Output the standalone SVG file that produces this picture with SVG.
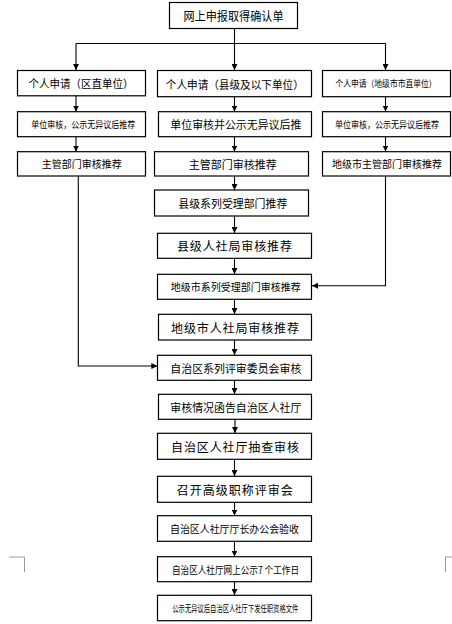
<svg xmlns="http://www.w3.org/2000/svg" width="452" height="624" viewBox="0 0 452 624">
<defs>
<marker id="ah" viewBox="0 0 10 10" refX="10" refY="5" markerWidth="6" markerHeight="6" orient="auto" markerUnits="userSpaceOnUse">
<path d="M0,0 L10,5 L0,10 z" fill="#000"/>
</marker>
<style>
.b{fill:#fff;stroke:#000;stroke-width:1.2}
.t{font-family:"Noto Sans CJK SC","Noto Sans",sans-serif;fill:#000;text-anchor:middle;dominant-baseline:central}
.c{fill:none;stroke:#000;stroke-width:1.1}
.a{fill:none;stroke:#000;stroke-width:1.1;marker-end:url(#ah)}
.m{fill:none;stroke:#999;stroke-width:1}
</style>
</defs>
<rect width="452" height="624" fill="#fff"/>
<g id="connectors">
<path class="a" d="M234.5,28.5 V70"/>
<path class="c" d="M76,43.5 H385.5"/>
<path class="a" d="M76,43.5 V70"/>
<path class="a" d="M385.5,43.5 V70"/>
<path class="a" d="M76,95.7 V111.5"/>
<path class="a" d="M76,136.7 V151.5"/>
<path class="a" d="M385.5,96.7 V111.5"/>
<path class="a" d="M385.5,136.7 V151.5"/>
<path class="a" d="M234.5,96.7 V111.5"/>
<path class="a" d="M234.5,136.7 V151.5"/>
<path class="a" d="M234.5,176 V190"/>
<path class="a" d="M234.5,216 V233"/>
<path class="a" d="M234.5,258.3 V274"/>
<path class="a" d="M234.5,299.3 V314"/>
<path class="a" d="M234.5,340 V355"/>
<path class="a" d="M234.5,380.3 V394"/>
<path class="a" d="M235,419.3 V433"/>
<path class="a" d="M234.5,459.3 V476"/>
<path class="a" d="M234.5,502.3 V515.5"/>
<path class="a" d="M234.5,541.3 V556.5"/>
<path class="a" d="M234.5,581.7 V595"/>
<path class="a" d="M385.5,176 V285.7 H312"/>
<path class="a" d="M78.3,176 V366 H157.3"/>
</g>
<g id="n1"><rect class="b" x="169.5" y="2.5" width="128" height="26"/><text class="t" x="233.5" y="15.5" font-size="12" textLength="100" lengthAdjust="spacingAndGlyphs">网上申报取得确认单</text></g>
<g id="n2"><rect class="b" x="17.5" y="70.5" width="128" height="25.3"/><text class="t" x="81" y="83" font-size="11" textLength="105" lengthAdjust="spacingAndGlyphs">个人申请（区直单位）</text></g>
<g id="n3"><rect class="b" x="157.5" y="70.5" width="154" height="26.2"/><text class="t" x="234.8" y="83.6" font-size="11" textLength="138" lengthAdjust="spacingAndGlyphs">个人申请（县级及以下单位）</text></g>
<g id="n4"><rect class="b" x="322.5" y="70.5" width="128" height="26.2"/><text class="t" x="386" y="83.6" font-size="9" textLength="101" lengthAdjust="spacingAndGlyphs">个人申请（地级市市直单位）</text></g>
<g id="n5"><rect class="b" x="17.5" y="111.7" width="128" height="25"/><text class="t" x="83.3" y="124.2" font-size="9" textLength="104" lengthAdjust="spacingAndGlyphs">单位审核，公示无异议后推荐</text></g>
<g id="n6"><rect class="b" x="158.5" y="111.7" width="153" height="25"/><text class="t" x="235.8" y="124.2" font-size="11" textLength="131" lengthAdjust="spacingAndGlyphs">单位审核并公示无异议后推</text></g>
<g id="n7"><rect class="b" x="322.5" y="111.7" width="128" height="25"/><text class="t" x="387" y="124.2" font-size="9" textLength="104" lengthAdjust="spacingAndGlyphs">单位审核，公示无异议后推荐</text></g>
<g id="n8"><rect class="b" x="17.5" y="151.7" width="128" height="24.3"/><text class="t" x="81.7" y="163.8" font-size="10" textLength="80" lengthAdjust="spacingAndGlyphs">主管部门审核推荐</text></g>
<g id="n9"><rect class="b" x="154.5" y="151.7" width="154" height="24.3"/><text class="t" x="232.8" y="163.8" font-size="11" textLength="88" lengthAdjust="spacingAndGlyphs">主管部门审核推荐</text></g>
<g id="n10"><rect class="b" x="322.5" y="151.7" width="128" height="24.3"/><text class="t" x="387" y="163.8" font-size="10" textLength="110" lengthAdjust="spacingAndGlyphs">地级市主管部门审核推荐</text></g>
<g id="n11"><rect class="b" x="154.5" y="190" width="154" height="26"/><text class="t" x="232.8" y="203" font-size="11" textLength="109" lengthAdjust="spacingAndGlyphs">县级系列受理部门推荐</text></g>
<g id="n12"><rect class="b" x="157.5" y="233.3" width="154" height="25"/><text class="t" x="234.5" y="245.8" font-size="12" textLength="115" lengthAdjust="spacing">县级人社局审核推荐</text></g>
<g id="n13"><rect class="b" x="157.5" y="274.3" width="154" height="25"/><text class="t" x="235.8" y="286.8" font-size="10" textLength="130" lengthAdjust="spacingAndGlyphs">地级市系列受理部门审核推荐</text></g>
<g id="n14"><rect class="b" x="158.5" y="314.3" width="153" height="25.7"/><text class="t" x="235" y="327.2" font-size="12" textLength="128" lengthAdjust="spacing">地级市人社局审核推荐</text></g>
<g id="n15"><rect class="b" x="157.5" y="355.3" width="154" height="25"/><text class="t" x="235.8" y="367.8" font-size="11" textLength="131" lengthAdjust="spacingAndGlyphs">自治区系列评审委员会审核</text></g>
<g id="n16"><rect class="b" x="158.5" y="394.3" width="153" height="25"/><text class="t" x="235.8" y="406.8" font-size="11" textLength="131" lengthAdjust="spacingAndGlyphs">审核情况函告自治区人社厅</text></g>
<g id="n17"><rect class="b" x="157.5" y="433.3" width="154" height="26"/><text class="t" x="235" y="446.3" font-size="12" textLength="128" lengthAdjust="spacing">自治区人社厅抽查审核</text></g>
<g id="n18"><rect class="b" x="157.5" y="476.3" width="154" height="26"/><text class="t" x="234.7" y="489.3" font-size="12" textLength="116" lengthAdjust="spacing">召开高级职称评审会</text></g>
<g id="n19"><rect class="b" x="157.5" y="515.7" width="154" height="25.6"/><text class="t" x="234.5" y="528.5" font-size="10" textLength="129" lengthAdjust="spacing">自治区人社厅厅长办公会验收</text></g>
<g id="n20"><rect class="b" x="157.5" y="556.7" width="154" height="25"/><text class="t" x="235.5" y="569.2" font-size="10" textLength="127" lengthAdjust="spacingAndGlyphs">自治区人社厅网上公示7 个工作日</text></g>
<g id="n21"><rect class="b" x="157.5" y="595.3" width="154" height="25.4"/><text class="t" x="235.3" y="608" font-size="9" textLength="126" lengthAdjust="spacingAndGlyphs">公示无异议后自治区人社厅下发任职资格文件</text></g>
<path class="m" d="M9,557 H24.5 V572"/>
<path class="m" d="M452,557 H445.5 V572"/>
</svg>
